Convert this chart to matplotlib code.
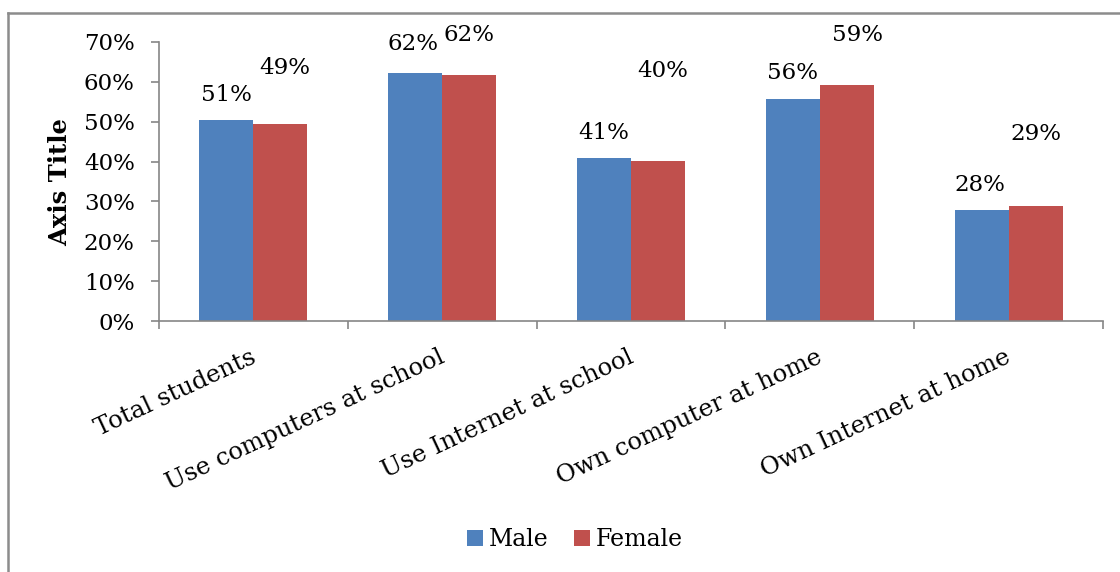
import matplotlib
matplotlib.use("Agg")
import matplotlib.pyplot as plt
from matplotlib.lines import Line2D
from matplotlib.ticker import PercentFormatter

categories = ["Total students", "Use computers at school", "Use Internet at school",
              "Own computer at home", "Own Internet at home"]
male = [0.505, 0.622, 0.409, 0.557, 0.278]
female = [0.495, 0.617, 0.401, 0.592, 0.289]
male_labels = ["51%", "62%", "41%", "56%", "28%"]
female_labels = ["49%", "62%", "40%", "59%", "29%"]

# label nudges in pixels (dx, dy above the bar top)
male_nudge = [(0, 25), (-2, 29), (0, 25), (0, 26), (-2, 25)]
female_nudge = [(4, 56), (0, 40), (5, 90), (11, 50), (0, 72)]

BLUE = "#4F81BD"
RED = "#C0504D"
GREY = "#868686"

plt.rcParams["font.family"] = ["DejaVu Serif"]

fig = plt.figure(figsize=(11.2, 5.72), dpi=100)
ax = fig.add_axes([159 / 1120, 1 - 321 / 572, (1103 - 159) / 1120, (321 - 42) / 572])

w = 0.286
xs = range(len(categories))
ax.bar([x - w / 2 for x in xs], male, width=w, color=BLUE, label="Male")
ax.bar([x + w / 2 for x in xs], female, width=w, color=RED, label="Female")

px = 72 / 100
for i in xs:
    dx, dy = male_nudge[i]
    ax.annotate(male_labels[i], (i - w / 2, male[i]), xytext=(dx * px, dy * px),
                textcoords="offset points", ha="center", va="center", fontsize=16.5)
    dx, dy = female_nudge[i]
    ax.annotate(female_labels[i], (i + w / 2, female[i]), xytext=(dx * px, dy * px),
                textcoords="offset points", ha="center", va="center", fontsize=16.5)

ax.set_xlim(-0.5, len(categories) - 0.5)
ax.set_ylim(0, 0.7)
ax.set_yticks([i / 10 for i in range(8)])
ax.yaxis.set_major_formatter(PercentFormatter(1.0, decimals=0))
ax.tick_params(axis="y", labelsize=16.5, length=5.5, color=GREY, width=1.2, pad=12)

# category boundary ticks on the x axis
ax.set_xticks([i - 0.5 for i in range(len(categories) + 1)])
ax.set_xticklabels([])
ax.tick_params(axis="x", length=5.5, color=GREY, width=1.2)
for i, name in enumerate(categories):
    ax.text(i - 0.02, -0.062, name, transform=ax.transData, rotation=25,
            rotation_mode="anchor", ha="right", va="top", fontsize=17.5)

for side in ["top", "right"]:
    ax.spines[side].set_visible(False)
for side in ["left", "bottom"]:
    ax.spines[side].set_color(GREY)
    ax.spines[side].set_linewidth(1.2)

fig.text(60 / 1120, 1 - 182 / 572, "Axis Title", rotation=90, ha="center", va="center",
         fontsize=17.5, fontweight="bold")

fig.legend(loc="center", bbox_to_anchor=(575 / 1120, 1 - 540 / 572), ncol=2, frameon=False,
           fontsize=17, handlelength=0.65, handleheight=0.65, handletextpad=0.25,
           columnspacing=1.1)

# chart area border (left and top edges)
fig.add_artist(Line2D([8 / 1120, 8 / 1120], [0, 1 - 13 / 572], transform=fig.transFigure,
                      color="#8C8C8C", linewidth=1.8))
fig.add_artist(Line2D([8 / 1120, 1], [1 - 13 / 572, 1 - 13 / 572], transform=fig.transFigure,
                      color="#8C8C8C", linewidth=1.8))

fig.savefig("out.png", dpi=100)
